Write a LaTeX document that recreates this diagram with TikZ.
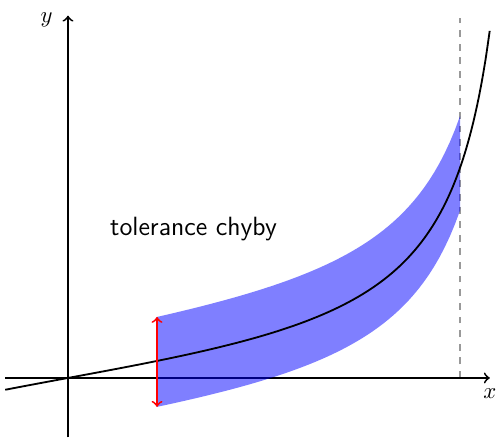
\documentclass[tikz,border=0pt]{standalone}
\usetikzlibrary{calc}
\begin{document}
\begin{tikzpicture}[declare function={f(\t)=0.856*tan(deg(0.2167*\t));
    up(\t)=0.68+0.12*(\t-1.376)/4.684; dn(\t)=0.71-0.05*(\t-1.376)/4.684;}]
\useasboundingbox (-1.051,-0.943) rectangle (6.631,5.842);
\coordinate (O) at (0,0);
\coordinate (L) at (1.376,0); \coordinate (R) at (6.06,0);
\draw[gray!80,thick,dashed] (R)--(6.06,5.56);
\draw[->,thick] (-0.97,0)--(6.52,0) node[below=1pt] (xl) {$x$};
\draw[->,thick] (0,-0.92)--(0,5.6) node[left=3pt,yshift=-2pt] (yl) {$y$};
\fill[blue,opacity=.5] plot[domain=1.376:6.06,samples=60] (\x,{f(\x)+up(\x)})
  -- plot[domain=6.06:1.376,samples=60] (\x,{f(\x)-dn(\x)}) -- cycle;
\draw[thick] plot[domain=-0.97:6.52,samples=120,smooth] (\x,{f(\x)});
\coordinate (A) at ($(L)+(0,{f(1.376)-0.71})$);
\coordinate (B) at ($(L)+(0,{f(1.376)+0.68})$);
\draw[<->,thick,red] (A)--(B);
\node[font=\fontsize{11.6}{14}\sffamily] (tol) at (1.94,2.3) {tolerance chyby};
\end{tikzpicture}
\end{document}
